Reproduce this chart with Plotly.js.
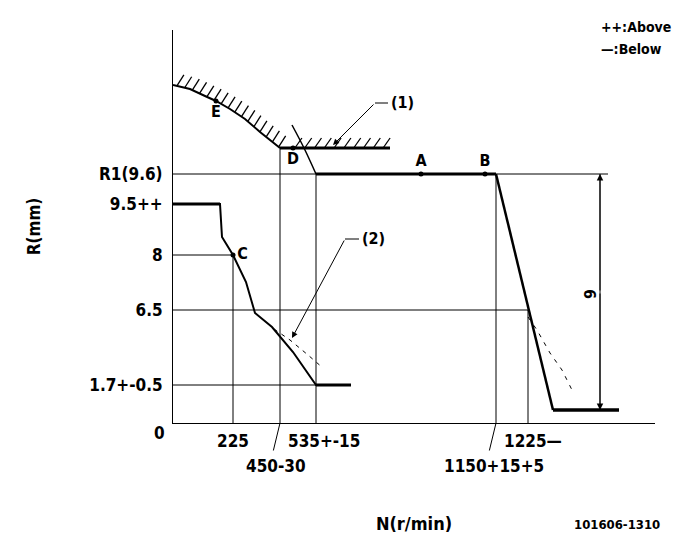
<!DOCTYPE html>
<html><head><meta charset="utf-8">
<script src="https://cdn.plot.ly/plotly-3.0.1.min.js"></script>
<style>html,body{margin:0;padding:0;background:#fff}#chart{width:685px;height:549px}</style>
</head><body><div id="chart"></div>
<script>
// Schematic diagram units: x to the right of the origin, y above the origin
const yTickPos  = [249, 219, 168, 113, 38];
const yTickText = ['R1(9.6)', '9.5++', '8', '6.5', '1.7+-0.5'];
const xTickPos  = [60, 107, 143, 323, 355];
const xTickText = ['225', '450-30', '535+-15', '1150+15+5', '1225—'];
const xTickRow  = [1, 2, 1, 2, 1];          // 1 = first label row, 2 = second row with leader
const xTickShift = [0, -4, 8, -2, 5];        // label centre offset from tick position

// reference lines at the ticks
const hRefY   = [249, 168, 113, 38];
const hRefEnd = [435, 60, 355, 143];
const vRefX   = [60, 107, 143, 323, 355];
const vRefTop = [168, 275, 249, 249, 113];

// governor curve (upper: rack R1 to cut-off)
const upperX = [143, 323, 380, 446];
const upperY = [249, 249, 13, 13];

// idle / start curve (lower)
const idleX = [0, 47, 49, 60, 73, 82, 99, 120, 143, 178];
const idleY = [219, 219, 186, 168, 141, 110, 96, 71, 38, 38];

// (2) dashed alternative curves
const dashAX = [101, 117, 135, 150];
const dashAY = [94, 83, 68, 55];
const dashBX = [355, 364, 377, 389, 399];
const dashBY = [106, 93, 70, 53, 33];

// stop / limit boundary (hatched) and boundary curve through D
const stopArcX = [0, 17, 32, 43, 57, 72, 87, 97, 107];
const stopArcY = [338, 334, 327, 322, 314, 304, 291, 283, 275];
const stopFlatX = [107, 217];
const stopFlatY = [275, 275];
const dCurveX = [119, 131, 143];
const dCurveY = [298, 275, 249];

// points
const ptName = ['A', 'B', 'C', 'D', 'E'];
const ptX = [248, 312, 60, 120, 43];
const ptY = [249, 249, 168, 275, 322];
const ptPos = ['top center', 'top center', 'middle right', 'bottom center', 'bottom center'];

// dimension "9"
const dimX = 427, dimTop = 249, dimBottom = 13, dimText = '9';

// leaders
const lead1 = {text: '(1)', tipX: 160, tipY: 278, kneeX: 202, kneeY: 320, endX: 215};
const lead2 = {text: '(2)', tipX: 119, tipY: 85, kneeX: 172, kneeY: 184, endX: 186};

const FONT = '"Liberation Sans Narrow", "DejaVu Sans Condensed", "Arial Narrow", sans-serif';
const BLACK = '#000';

// hatch marks along the stop boundary
function hatch(xs, ys, step, dx, dy) {
  const hx = [], hy = [];
  let carry = step / 2;
  for (let i = 0; i < xs.length - 1; i++) {
    const sx = xs[i + 1] - xs[i], sy = ys[i + 1] - ys[i];
    const L = Math.hypot(sx, sy);
    let t = carry;
    while (t <= L) {
      const px = xs[i] + sx * t / L, py = ys[i] + sy * t / L;
      hx.push(px, px + dx, null); hy.push(py, py + dy, null);
      t += step;
    }
    carry = t - L;
  }
  return {hx, hy};
}
const hA = hatch(stopArcX, stopArcY, 8, 7, 11);
const hB = hatch([stopFlatX[0] + 10, stopFlatX[1]], stopFlatY, 9.8, 7, 10);

const gx = [], gy = [];
hRefY.forEach((y, i) => { gx.push(0, hRefEnd[i], null); gy.push(y, y, null); });
vRefX.forEach((x, i) => { gx.push(x, x, null); gy.push(0, vRefTop[i], null); });

const line = (x, y, w, extra) => Object.assign({
  type: 'scatter', mode: 'lines', x, y, hoverinfo: 'skip', showlegend: false,
  line: {color: BLACK, width: w}
}, extra || {});

const traces = [
  line(gx, gy, 1),
  line(hA.hx.concat(hB.hx), hA.hy.concat(hB.hy), 1.3),
  line(stopArcX, stopArcY, 2),
  line(stopFlatX, stopFlatY, 3),
  line(dCurveX, dCurveY, 1.5, {line: {color: BLACK, width: 1.5, shape: 'spline'}}),
  line(upperX.slice(0, 2), upperY.slice(0, 2), 3),
  line(upperX.slice(1, 3), upperY.slice(1, 3), 2.5),
  line(upperX.slice(2), upperY.slice(2), 3.5),
  line(idleX, idleY, 2),
  line(idleX.slice(0, 2), idleY.slice(0, 2), 3),
  line(idleX.slice(-2), idleY.slice(-2), 3),
  line(dashAX, dashAY, 1, {line: {color: BLACK, width: 1, dash: '4px,5px'}}),
  line(dashBX, dashBY, 1, {line: {color: BLACK, width: 1, dash: '4px,6px'}}),
  line([dimX, dimX], [dimTop, dimBottom], 1),
  line([lead1.kneeX, lead1.endX], [lead1.kneeY, lead1.kneeY], 1),
  line([lead2.kneeX, lead2.endX], [lead2.kneeY, lead2.kneeY], 1),
  {type: 'scatter', mode: 'markers+text', x: ptX, y: ptY, text: ptName, textposition: ptPos,
   marker: {color: BLACK, size: 5}, cliponaxis: false, hoverinfo: 'skip', showlegend: false,
   textfont: {family: FONT, size: 16, color: BLACK, weight: 'bold'}}
];

const f = (s) => ({family: FONT, size: s, color: BLACK, weight: 'bold'});
const ann = [];
// x tick labels
xTickPos.forEach((x, i) => {
  ann.push({xref: 'x', yref: 'paper', x: x + xTickShift[i], y: 0, yanchor: 'middle',
    yshift: xTickRow[i] === 1 ? -18 : -43, text: xTickText[i], showarrow: false, font: f(17)});
  if (xTickRow[i] === 2) {
    ann.push({xref: 'x', yref: 'y', x: x, y: 0, ax: -7, ay: 29, text: '', showarrow: true,
      arrowhead: 0, arrowwidth: 1, arrowcolor: BLACK, standoff: 0, startstandoff: 0});
  }
});
// origin label
ann.push({xref: 'paper', yref: 'paper', x: 0, y: 0, xanchor: 'right', yanchor: 'middle',
  xshift: -6, yshift: -10, text: '0', showarrow: false, font: f(17)});
// dimension arrows
[dimTop, dimBottom].forEach(y => ann.push({xref: 'x', yref: 'y', axref: 'x', ayref: 'y',
  x: dimX, y: y, ax: dimX, ay: (dimTop + dimBottom) / 2, text: '', showarrow: true,
  arrowhead: 2, arrowsize: 1.3, arrowwidth: 1, arrowcolor: BLACK, standoff: 0}));
ann.push({xref: 'x', yref: 'y', x: dimX - 10, y: (dimTop + dimBottom) / 2 - 2, text: dimText,
  textangle: -90, showarrow: false, font: f(16)});
// leaders
[lead1, lead2].forEach(L => {
  ann.push({xref: 'x', yref: 'y', axref: 'x', ayref: 'y', x: L.tipX, y: L.tipY, ax: L.kneeX, ay: L.kneeY,
    text: '', showarrow: true, arrowhead: 2, arrowsize: 1.2, arrowwidth: 1, arrowcolor: BLACK, standoff: 0});
  ann.push({xref: 'x', yref: 'y', x: L.endX + 1, y: L.kneeY + 1, xanchor: 'left', text: L.text,
    showarrow: false, font: f(16)});
});
// legend notes and drawing number
ann.push({xref: 'paper', yref: 'paper', x: 0.9605, y: 1.008, xanchor: 'center', yanchor: 'middle',
  text: '++:Above', showarrow: false, font: f(14)});
ann.push({xref: 'paper', yref: 'paper', x: 0.9505, y: 0.952, xanchor: 'center', yanchor: 'middle',
  text: '—:Below', showarrow: false, font: f(14)});
ann.push({xref: 'paper', yref: 'paper', x: 0.921, y: -0.257, xanchor: 'center', yanchor: 'middle',
  text: '101606-1310', showarrow: false, font: f(13)});

const layout = {
  width: 685, height: 549,
  margin: {l: 173, r: 30, t: 30, b: 126},
  paper_bgcolor: '#fff', plot_bgcolor: '#fff',
  showlegend: false,
  xaxis: {range: [0, 482], showgrid: false, zeroline: false, showline: true, linecolor: BLACK,
    linewidth: 1, ticks: '', showticklabels: false, fixedrange: true,
    title: {text: 'N(r/min)', font: f(18), standoff: 94}},
  yaxis: {range: [0, 393], showgrid: false, zeroline: false, showline: true, linecolor: BLACK,
    linewidth: 1, ticks: '', tickvals: yTickPos, ticktext: yTickText, ticklabelstandoff: 6,
    tickfont: f(17), fixedrange: true,
    title: {text: 'R(mm)', font: f(17), standoff: 44}},
  annotations: ann
};
Plotly.newPlot('chart', traces, layout, {staticPlot: true, displayModeBar: false});
</script></body></html>
